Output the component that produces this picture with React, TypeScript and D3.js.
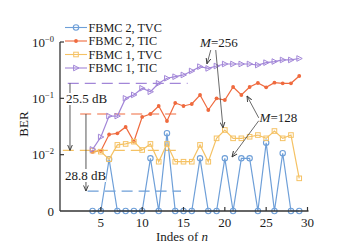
import React from "react";
import * as d3 from "d3";

// ---------- data ----------
const nIndex = [4, 5, 6, 7, 8, 9, 10, 11, 12, 13, 14, 15, 16, 17, 18, 19, 20, 21, 22, 23, 24, 25, 26, 27, 28, 29];
const fbmc2TVC = [0, 0, 0.0083, 0, 0, 0, 0, 0.0086, 0, 0.024, 0, 0, 0, 0.0086, 0, 0, 0.0086, 0, 0.0086, 0.0086, 0, 0.0163, 0, 0.0106, 0, 0];
const fbmc2TIC = [0.0112, 0.0116, 0.0228, 0.0239, 0.031, 0.0171, 0.0467, 0.0527, 0.0731, 0.0396, 0.0826, 0.0731, 0.0794, 0.1146, 0.0621, 0.1, 0.0934, 0.159, 0.1146, 0.159, 0.187, 0.157, 0.19, 0.185, 0.185, 0.249];
const fbmc1TVC = [0.0118, 0.0113, 0.0083, 0.0149, 0.0155, 0.017, 0.0121, 0.0155, 0.0075, 0.0155, 0.0075, 0.0075, 0.0075, 0.0149, 0.0075, 0.0195, 0.0274, 0.0195, 0.0195, 0.0208, 0.0223, 0.0195, 0.0263, 0.0195, 0.0223, 0.0038];
const fbmc1TIC = [0.0124, 0.0206, 0.0485, 0.0485, 0.1, 0.115, 0.151, 0.131, 0.185, 0.227, 0.242, 0.26, 0.306, 0.365, 0.34, 0.375, 0.407, 0.407, 0.407, 0.407, 0.39, 0.43, 0.45, 0.48, 0.48, 0.51];
const seriesNames = ["FBMC 2, TVC", "FBMC 2, TIC", "FBMC 1, TVC", "FBMC 1, TIC"];
const xTicks = [5, 10, 15, 20, 25, 30];
const yTicks = [1, 0.1, 0.01];
const yTickExp = ["\u22120", "\u22121", "\u22122"];
// reference dashed levels: [seriesIndex, nStart, nEnd, BER]
const refLevels = [
  [3, 1.0, 15.5, 0.185],
  [1, 2.5, 14.7, 0.0527],
  [2, 0.4, 14.3, 0.0119],
  [0, 3.4, 14.7, 0.00226],
];
// dB gap arrows: [n, fromBER, toBER]
const gapArrows = [
  [1.27, 0.185, 0.0119],
  [3.2, 0.0527, 0.00226],
];
const gapLabels = ["25.5 dB", "28.8 dB"];
// M annotations: label anchor [n, BER], arrows [n0, b0, n1, b1]
const mLabels = [
  { m: "256", at: [17.0, 0.815], arrows: [[18.3, 0.72, 17.84, 0.41], [18.9, 0.72, 19.78, 0.03]] },
  { m: "128", at: [24.2, 0.038], arrows: [[24.1, 0.045, 22.68, 0.11], [24.1, 0.04, 20.87, 0.0091]] },
];

const colors = ["#6e9fd8", "#ef6a3e", "#f5c264", "#a286d8"];
const FONT = "'Liberation Serif','Times New Roman',serif";
const INK = "#1a1a1a";

export default function App() {
  const x = d3.scaleLinear().domain([0, 30]).range([59.5, 307.5]);
  const y = d3.scaleLog().domain([0.001, 1]).range([211, 42]);
  const yv = (v: number) => y(v <= 0 ? 0.001 : v);
  const axisX = 60;
  const all = [fbmc2TVC, fbmc2TIC, fbmc1TVC, fbmc1TIC];
  const line = d3
    .line<number>()
    .x((_, i) => x(nIndex[i]))
    .y((d) => yv(d));

  const marker = (k: number, cx: number, cy: number, key: any) => {
    const c = colors[k];
    if (k === 0) return <circle key={key} cx={cx} cy={cy} r={2.7} fill="none" stroke={c} strokeWidth={1.1} />;
    if (k === 1) return <circle key={key} cx={cx} cy={cy} r={1.9} fill={c} />;
    if (k === 2) return <rect key={key} x={cx - 2.3} y={cy - 2.3} width={4.6} height={4.6} fill="none" stroke={c} strokeWidth={1} />;
    return <path key={key} d={`M${cx - 2.4},${cy - 2.8}L${cx + 3},${cy}L${cx - 2.4},${cy + 2.8}Z`} fill="none" stroke={c} strokeWidth={1} />;
  };

  return (
    <svg width={337} height={250} style={{ position: "absolute", left: 0, top: 0, background: "#fff" }} fontFamily={FONT}>
      <defs>
        <marker id="ah" viewBox="0 0 8 8" refX={7.5} refY={4} markerWidth={6} markerHeight={6} markerUnits="userSpaceOnUse" orient="auto">
          <path d="M0,0.8 L7.5,4 L0,7.2" fill="none" stroke="#333" strokeWidth={1.2} />
        </marker>
      </defs>

      {/* reference dashed levels */}
      {refLevels.map((r, i) => (
        <line key={"ref" + i} x1={x(r[1])} x2={x(r[2])} y1={y(r[3])} y2={y(r[3])} stroke={colors[r[0]]} strokeWidth={1.2} strokeDasharray="11,6" />
      ))}

      {/* series */}
      {all.map((s, k) => (
        <g key={"s" + k}>
          <path d={line(s) || ""} fill="none" stroke={colors[k]} strokeWidth={1.2} />
          {s.map((v, i) => marker(k, x(nIndex[i]), yv(v), i))}
        </g>
      ))}

      {/* gap arrows */}
      {gapArrows.map((a, i) => {
        const xa = x(a[0]);
        return <line key={"ga" + i} x1={xa} x2={xa} y1={y(a[1])} y2={y(a[2])} stroke="#444" strokeWidth={0.9} markerEnd="url(#ah)" />;
      })}
      <rect x={65} y={93} width={42} height={12} fill="#fff" />
      <text x={66} y={103} fontSize={13} fill={INK}>{gapLabels[0]}</text>
      <rect x={64} y={169} width={42} height={13} fill="#fff" />
      <text x={65} y={180} fontSize={13} fill={INK}>{gapLabels[1]}</text>

      {/* M annotations */}
      {mLabels.map((m, i) => (
        <g key={"m" + i}>
          {m.arrows.map((a, j) => (
            <line key={j} x1={x(a[0])} y1={y(a[1])} x2={x(a[2])} y2={y(a[3])} stroke="#444" strokeWidth={0.8} markerEnd="url(#ah)" />
          ))}
          <text x={x(m.at[0])} y={y(m.at[1])} fontSize={13} fill={INK}>
            <tspan fontStyle="italic">M</tspan>={m.m}
          </text>
        </g>
      ))}

      {/* axes */}
      <line x1={axisX} x2={axisX} y1={42} y2={211} stroke="#333" strokeWidth={1.3} />
      <line x1={axisX} x2={x(30) + 1} y1={211} y2={211} stroke="#333" strokeWidth={1.3} />
      {yTicks.map((t, i) => (
        <g key={"yt" + i}>
          <line x1={axisX} x2={axisX + 4} y1={y(t)} y2={y(t)} stroke="#333" strokeWidth={1.2} />
          <text x={54} y={y(t) + 4.5} fontSize={13} textAnchor="end" fill={INK}>
            10<tspan dy={-5} fontSize={8.5}>{yTickExp[i]}</tspan>
          </text>
        </g>
      ))}
      <text x={54} y={215.5} fontSize={13} textAnchor="end" fill={INK}>0</text>
      {xTicks.map((t) => (
        <g key={"xt" + t}>
          <line x1={x(t)} x2={x(t)} y1={211} y2={207} stroke="#333" strokeWidth={1.2} />
          <text x={x(t)} y={226.5} fontSize={13} textAnchor="middle" fill={INK}>{t}</text>
        </g>
      ))}
      <text x={182} y={241} fontSize={13} textAnchor="middle" fill={INK}>
        Indes of <tspan fontStyle="italic">n</tspan>
      </text>
      <text transform="translate(27.5,124) rotate(-90)" fontSize={13} textAnchor="middle" fill={INK}>BER</text>

      {/* legend */}
      {seriesNames.map((s, k) => {
        const ly = 27.5 + k * 13.5;
        return (
          <g key={"lg" + k}>
            <line x1={65} x2={87} y1={ly} y2={ly} stroke={colors[k]} strokeWidth={1.1} />
            {marker(k, 76, ly, "m")}
            <text x={88.5} y={ly + 4.3} fontSize={12.2} fill={INK}>{s}</text>
          </g>
        );
      })}
    </svg>
  );
}
